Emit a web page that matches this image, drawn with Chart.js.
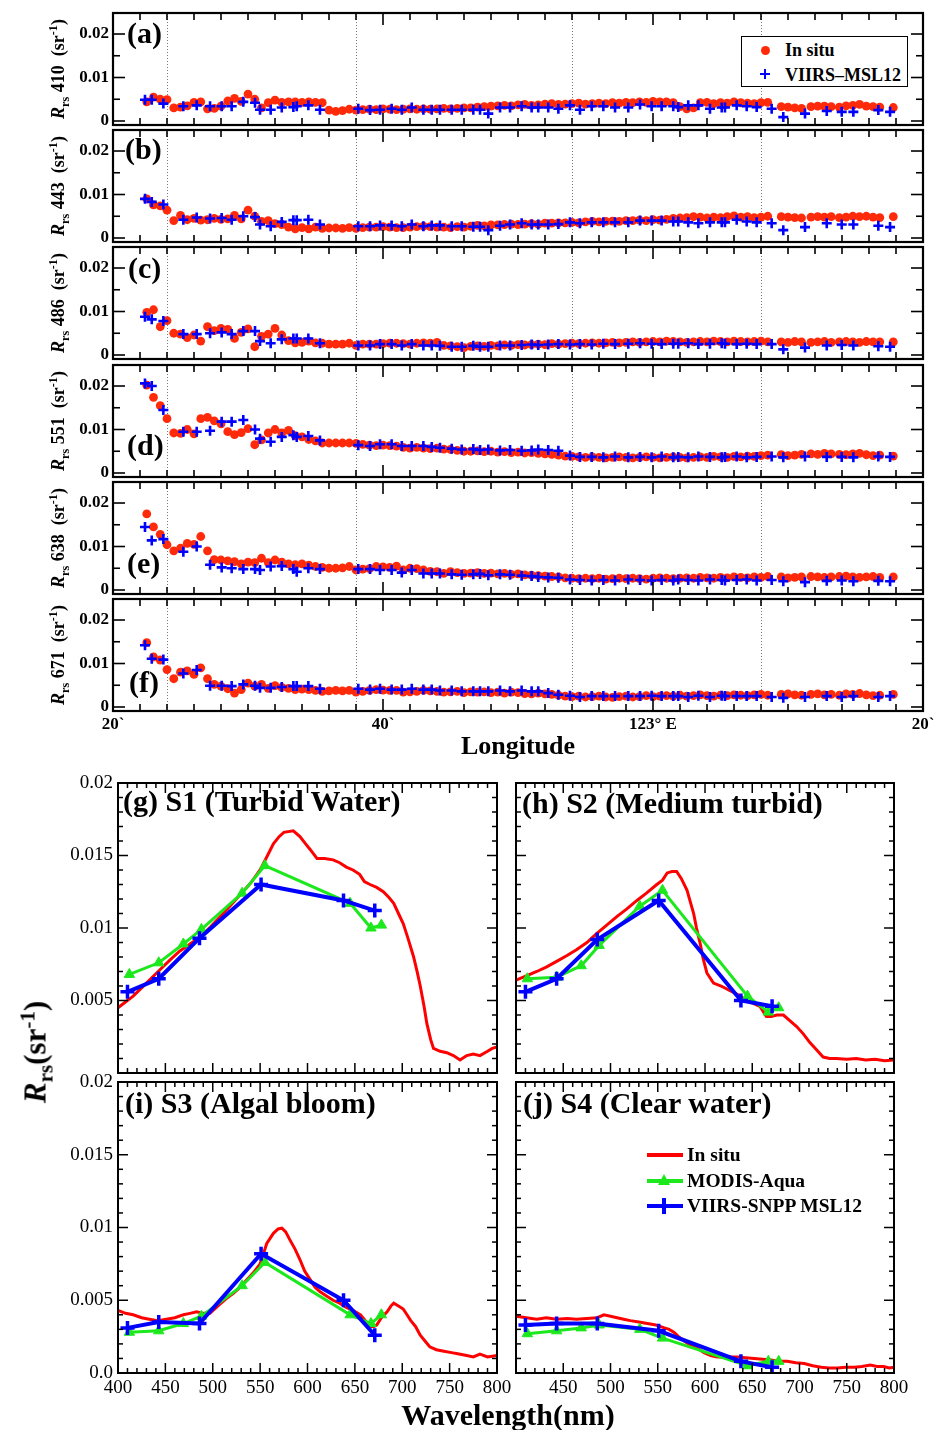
<!DOCTYPE html>
<html>
<head>
<meta charset="utf-8">
<script src="https://cdn.jsdelivr.net/npm/chart.js@4.4.1/dist/chart.umd.min.js"></script>
<style>
html,body{margin:0;padding:0;background:#fff;}
#stage{position:relative;width:935px;height:1430px;overflow:hidden;font-family:"Liberation Serif","Times New Roman",serif;color:#000;}
canvas{position:absolute;z-index:1;}
.t{position:absolute;white-space:nowrap;font-weight:bold;line-height:1;z-index:3;}
.rot{transform:translate(-50%,-50%) rotate(-90deg);}
.ctr{transform:translate(-50%,0);}
.t sub,.t sup{font-size:0.68em;line-height:0;}
.it{font-style:italic;}
.pl{font-size:30px;}
.yt{font-size:18px;}
.st{font-size:30px;}
#legA{position:absolute;left:741px;top:36px;width:167px;height:51px;box-sizing:border-box;border:1.5px solid #000;background:#fff;z-index:2;}
.mk{position:absolute;z-index:3;}
</style>
</head>
<body>
<div id="stage">
  <!-- top panel y titles -->
  <div class="t yt rot" style="left:58px;top:69px"><span class="it">R</span><sub>rs</sub> 410&nbsp; (sr<sup>-1</sup>)</div>
  <div class="t yt rot" style="left:58px;top:186px"><span class="it">R</span><sub>rs</sub> 443&nbsp; (sr<sup>-1</sup>)</div>
  <div class="t yt rot" style="left:58px;top:303px"><span class="it">R</span><sub>rs</sub> 486&nbsp; (sr<sup>-1</sup>)</div>
  <div class="t yt rot" style="left:58px;top:421px"><span class="it">R</span><sub>rs</sub> 551&nbsp; (sr<sup>-1</sup>)</div>
  <div class="t yt rot" style="left:58px;top:538px"><span class="it">R</span><sub>rs</sub> 638&nbsp; (sr<sup>-1</sup>)</div>
  <div class="t yt rot" style="left:58px;top:655px"><span class="it">R</span><sub>rs</sub> 671&nbsp; (sr<sup>-1</sup>)</div>
  <!-- panel letters -->
  <div class="t pl" style="left:127px;top:18px">(a)</div>
  <div class="t pl" style="left:125px;top:134px">(b)</div>
  <div class="t pl" style="left:128px;top:253px">(c)</div>
  <div class="t pl" style="left:127px;top:430px">(d)</div>
  <div class="t pl" style="left:127px;top:548px">(e)</div>
  <div class="t pl" style="left:129px;top:667px">(f)</div>
  <!-- legend (a) -->
  <div id="legA"></div>
  <div class="mk" style="left:760.5px;top:45.5px;width:9px;height:9px;border-radius:50%;background:#ff2a0a"></div>
  <div class="mk" style="left:760px;top:73px;width:10px;height:2.4px;background:#0000ff"></div>
  <div class="mk" style="left:763.8px;top:69px;width:2.4px;height:10px;background:#0000ff"></div>
  <div class="t" style="left:785px;top:41px;font-size:18px">In situ</div>
  <div class="t" style="left:785px;top:66px;font-size:18px">VIIRS–MSL12</div>
  <div class="t ctr" style="left:518px;top:733px;font-size:26px">Longitude</div>
  <!-- bottom titles -->
  <div class="t st" style="left:123px;top:785.5px">(g) S1 (Turbid Water)</div>
  <div class="t st" style="left:522px;top:787.5px">(h) S2 (Medium turbid)</div>
  <div class="t st" style="left:125px;top:1087.5px">(i) S3 (Algal bloom)</div>
  <div class="t st" style="left:523px;top:1087.5px">(j) S4 (Clear water)</div>
  <!-- legend (j) -->
  <div class="mk" style="left:647px;top:1153px;width:36px;height:4px;background:#ff0000"></div>
  <div class="mk" style="left:647px;top:1179px;width:36px;height:4px;background:#1de81d"></div>
  <div class="mk" style="left:658px;top:1174px;width:0;height:0;border-left:6.5px solid transparent;border-right:6.5px solid transparent;border-bottom:11px solid #1de81d"></div>
  <div class="mk" style="left:647px;top:1204px;width:36px;height:4px;background:#0000ff"></div>
  <div class="mk" style="left:662.2px;top:1198px;width:3.6px;height:16px;background:#0000ff"></div>
  <div class="t" style="left:687px;top:1145px;font-size:19.5px">In situ</div>
  <div class="t" style="left:687px;top:1171px;font-size:19.5px">MODIS-Aqua</div>
  <div class="t" style="left:687px;top:1196px;font-size:19.5px">VIIRS-SNPP MSL12</div>
  <div class="t rot" style="left:35px;top:1052px;font-size:31px"><span class="it">R</span><sub>rs</sub>(sr<sup>-1</sup>)</div>
  <div class="t ctr" style="left:508px;top:1400px;font-size:30px">Wavelength(nm)</div>
</div>
<script>
// ---------------- DATA ----------------
// Longitude axis: arc-minutes past 122°E (20` ... 123°E ... 20`)
const lonTickValues = [20, 40, 60, 80];
const lonTickLabels = ['20`', '40`', '123° E', '20`'];
const sectionLines = [24, 38, 54, 68];
const rrsTopTickValues = [0, 0.01, 0.02];
const rrsTopTickLabels = ['0', '0.01', '0.02'];

// In situ station longitudes (arc-min)
const insituLon = [22.5,23,23.5,24,24.5,25,25.5,26,26.5,27,27.5,28,28.5,29,29.5,30,30.5,31,31.5,32,32.5,33,33.5,34,34.5,35,35.5,36,36.5,37,37.5,38,38.5,39,39.5,40,40.5,41,41.5,42,42.5,43,43.5,44,44.5,45,45.5,46,
 46.5,47,47.5,48,48.5,49,49.5,50,50.5,51,51.5,52,52.5,53,53.5,54,54.5,55,55.5,56,56.5,57,57.5,58,58.5,59,59.5,60,60.5,61,61.5,62,62.5,63,63.5,64,64.5,65,65.5,66,66.5,67,67.5,68,68.5,
 69.5,70,70.5,71,71.7,72.2,72.7,73.2,73.8,74.3,74.8,75.3,75.8,76.3,76.8,77.8];
// VIIRS matchup longitudes (arc-min)
const viirsLon = [22.37,22.87,23.73,25.21,26.2,27.19,28.05,28.79,29.65,30.52,30.89,31.68,32.5,33.36,33.61,34.47,35.33,38.17,39.04,39.78,40.64,41.39,42.13,42.99,43.61,44.22,45.09,45.83,
 46.69,47.19,47.8,48.67,49.41,50.27,51.01,51.5,52.24,52.99,53.85,54.59,55.46,56.32,57.19,58.17,59.04,59.9,60.64,61.5,61.87,62.61,63.36,64.22,65.09,65.33,66.2,66.94,67.68,68.79,69.65,71.26,72.87,73.98,74.84,76.69,77.56];

// Rrs values in units of 1e-3 sr^-1
const insitu410 = [4.4,5.5,5.0,4.9,3.0,3.2,3.5,4.3,4.4,2.8,2.9,3.4,4.6,5.2,4.5,6.2,5.0,3.0,4.2,4.8,4.3,4.4,4.4,4.3,4.4,4.3,4.2,2.5,2.2,2.4,2.7,2.5,2.6,2.7,2.6,2.8,2.7,2.6,2.7,2.8,2.7,2.8,2.7,2.8,2.9,2.8,2.9,3.0,
 3.0,3.2,3.3,3.4,3.5,3.6,3.5,3.7,3.8,3.6,3.7,3.9,4.0,3.8,3.9,4.0,4.1,3.9,4.0,4.1,4.0,4.2,4.1,4.3,4.2,4.4,4.3,4.5,4.4,4.4,4.2,3.3,2.8,3.0,4.2,4.3,4.0,4.2,4.1,4.4,4.2,4.1,4.0,4.2,4.3,
 3.3,3.2,3.0,2.9,3.3,3.4,3.4,3.3,3.2,3.5,3.6,3.8,3.4,3.3,3.2,3.1];
const insitu443 = [9.0,7.6,7.4,6.4,4.0,5.2,4.2,4.5,4.1,4.2,4.5,4.3,4.4,5.2,4.4,6.4,5.0,3.8,4.0,3.3,3.1,2.5,2.1,2.4,2.1,2.5,2.2,2.3,2.3,2.2,2.4,2.2,2.4,2.5,2.5,2.6,2.5,2.4,2.4,2.5,2.6,2.7,2.6,2.5,2.5,2.4,2.6,2.5,
 2.7,2.9,2.8,3.0,3.0,3.1,3.2,3.1,3.2,3.3,3.2,3.4,3.4,3.5,3.5,3.6,3.5,3.7,3.8,3.7,3.8,3.9,3.8,4.0,4.0,4.1,4.0,4.2,4.1,4.3,4.5,4.6,4.7,4.9,4.8,4.6,4.8,4.7,4.9,5.1,4.8,4.9,4.7,4.8,5.0,
 4.9,4.8,4.7,4.6,4.8,4.9,4.8,4.9,4.7,4.8,5.0,4.9,5.0,4.8,4.7,4.9];
const insitu486 = [9.8,10.4,6.5,7.9,5.0,4.8,4.0,4.6,3.2,6.5,5.6,6.1,5.9,3.8,5.2,6.0,1.9,4.3,4.8,6.1,4.6,3.3,2.8,2.9,3.2,2.8,2.7,2.5,2.5,2.5,2.7,2.2,2.5,2.5,2.5,2.6,2.7,2.7,2.6,2.5,2.7,2.8,2.7,2.9,2.2,2.1,1.9,1.7,
 2.0,2.1,2.0,2.2,2.1,2.3,2.2,2.4,2.3,2.4,2.5,2.4,2.6,2.5,2.6,2.7,2.6,2.7,2.8,2.7,2.8,2.9,2.8,2.9,3.0,2.9,3.0,3.1,3.0,3.2,3.1,3.0,2.9,3.0,3.1,3.0,3.2,3.1,3.0,3.2,3.1,3.0,3.1,3.2,3.0,
 3.0,2.9,3.1,3.0,2.9,3.0,3.1,2.9,3.0,3.1,3.0,2.9,3.1,3.0,3.0,3.0];
const insitu551 = [20.2,17.4,15.5,12.5,9.2,9.1,10.0,9.0,12.5,12.8,12.0,11.3,9.5,8.8,9.3,10.2,6.5,7.6,9.2,10.0,9.2,9.8,8.6,8.3,7.7,7.4,6.9,6.9,6.9,6.9,6.9,6.8,6.6,6.4,6.3,6.4,6.3,6.2,5.9,5.7,5.9,5.7,5.6,5.7,5.5,5.4,5.2,5.0,
 5.0,5.1,4.9,5.0,4.8,4.9,4.7,4.8,4.6,4.7,4.5,4.4,4.3,4.1,3.9,3.8,3.7,3.6,3.7,3.6,3.5,3.6,3.7,3.6,3.5,3.6,3.7,3.6,3.5,3.6,3.7,3.6,3.5,3.6,3.7,3.6,3.8,3.7,3.6,3.8,3.7,3.9,3.8,4.0,4.1,
 4.2,4.0,4.1,4.3,4.4,4.3,4.5,4.4,4.3,4.2,4.4,4.5,4.2,4.0,4.1,3.9];
const insitu638 = [17.5,14.5,12.8,10.4,9.0,9.6,10.7,10.5,12.3,9.0,7.0,6.9,6.7,6.5,6.0,6.4,6.3,7.3,6.3,6.9,6.4,6.0,5.8,6.0,5.7,5.4,5.2,5.0,5.0,5.1,5.4,4.6,4.8,4.9,5.4,5.3,5.2,5.5,4.6,5.0,4.9,4.6,4.3,4.2,3.8,4.2,4.0,3.8,
 3.9,4.0,3.8,3.9,3.7,3.8,3.6,3.7,3.5,3.4,3.3,3.2,3.1,3.0,2.8,2.7,2.6,2.7,2.6,2.7,2.5,2.6,2.7,2.6,2.7,2.6,2.5,2.7,2.8,2.7,2.6,2.7,2.8,2.7,2.9,2.8,2.7,2.9,2.8,3.0,2.9,2.8,3.0,2.9,3.1,
 3.0,2.8,2.9,3.0,3.1,3.0,2.9,3.0,3.1,3.2,3.0,2.9,3.0,3.1,2.9,3.0];
const insitu671 = [14.8,11.5,10.8,8.6,6.5,8.0,8.3,7.5,9.0,6.5,5.2,4.8,4.2,3.2,4.0,5.5,4.8,5.2,4.3,4.9,4.5,4.3,4.0,4.1,4.0,3.8,3.6,3.7,3.8,3.7,3.8,3.4,3.6,3.8,4.0,3.9,3.8,3.8,3.4,3.5,3.6,3.8,3.7,3.6,3.4,3.5,3.6,3.3,
 3.5,3.4,3.5,3.3,3.4,3.2,3.4,3.3,3.1,3.0,3.2,3.0,2.9,2.7,2.5,2.4,2.5,2.3,2.4,2.5,2.3,2.2,2.4,2.5,2.3,2.4,2.6,2.4,2.5,2.6,2.5,2.7,2.5,2.6,2.8,2.6,2.5,2.7,2.6,2.8,2.7,2.6,2.8,2.9,2.7,
 2.9,3.0,2.8,2.7,2.9,3.0,2.8,2.9,2.7,3.0,2.9,3.1,2.8,2.6,2.7,2.9];

const viirs410 = [4.9,4.9,4.0,3.4,3.6,3.4,3.4,3.4,4.4,4.2,2.6,2.6,3.1,3.2,3.4,3.6,2.6,2.8,2.5,2.6,2.8,2.6,3.1,2.6,2.6,2.6,2.6,2.6,
 2.6,2.6,1.7,3.1,3.1,3.4,3.1,3.1,3.1,2.8,3.6,2.6,3.4,3.4,3.1,3.1,3.8,3.4,3.4,3.4,3.2,3.6,3.6,2.8,3.1,3.1,3.6,3.4,3.2,2.8,0.9,1.7,2.3,2.1,2.1,2.5,2.1];
const viirs443 = [9.0,8.3,7.7,4.2,4.7,4.5,4.6,4.2,5.0,4.8,3.1,2.7,3.7,4.1,4.1,4.2,3.1,2.7,2.7,2.9,2.9,2.7,3.1,2.7,2.9,2.9,2.7,2.7,
 2.6,2.6,1.8,2.8,3.1,3.4,3.1,3.1,3.1,3.2,3.6,3.4,3.6,3.6,3.6,3.6,4.0,4.0,4.0,3.8,3.8,3.6,3.4,3.6,3.6,3.6,4.2,3.8,3.6,3.4,1.8,2.5,3.4,3.1,3.1,2.8,2.5];
const viirs486 = [8.8,8.2,7.8,4.8,4.8,5.0,5.2,4.8,5.5,5.5,3.2,2.7,3.6,3.8,3.8,3.8,2.7,2.2,2.2,2.5,2.5,2.2,2.5,2.2,2.2,2.1,1.9,1.9,
 2.1,1.9,1.9,2.2,2.2,2.3,2.4,2.3,2.4,2.5,2.4,2.5,2.4,2.6,2.5,2.6,2.7,2.6,2.5,2.6,2.6,2.7,2.5,2.6,2.7,2.6,2.5,2.6,2.5,2.5,1.3,1.7,2.2,2.3,2.2,2.0,1.9];
const viirs551 = [20.6,20.0,14.5,9.5,9.5,9.7,11.8,11.8,12.2,10.0,7.9,7.2,8.3,8.7,8.3,8.5,7.5,6.4,6.2,6.6,6.6,6.2,6.2,6.2,6.0,5.8,5.6,5.4,
 5.5,5.3,5.4,5.2,5.3,5.1,5.2,5.4,5.3,5.1,4.0,3.7,3.7,3.6,3.8,3.6,3.7,3.6,3.8,3.6,3.7,3.6,3.8,3.7,3.6,3.7,3.8,3.6,3.7,3.8,3.6,3.8,3.7,3.7,3.6,3.8,3.7];
const viirs638 = [14.5,11.4,11.7,8.8,10.0,5.8,5.2,5.0,4.8,4.8,4.6,5.4,5.5,4.8,4.2,5.0,4.8,4.8,4.8,4.6,4.6,4.0,4.6,3.8,3.8,3.8,3.6,3.5,
 3.6,3.7,3.4,3.6,3.5,3.3,3.2,3.0,2.9,2.8,2.4,2.3,2.2,2.3,2.2,2.4,2.3,2.2,2.3,2.2,2.4,2.3,2.2,2.4,2.3,2.2,2.3,2.4,2.2,2.3,2.0,1.8,2.1,2.2,2.0,2.1,2.0];
const viirs671 = [14.2,11.1,10.9,7.7,8.5,4.9,4.9,4.8,5.2,4.9,4.4,4.4,4.6,4.8,4.8,4.8,4.2,4.2,4.0,4.2,4.0,4.0,4.2,4.0,4.0,3.8,3.8,3.6,
 3.6,3.6,3.6,3.8,3.6,3.8,3.6,3.6,3.2,2.8,2.6,2.3,2.5,2.5,2.5,2.5,2.5,2.6,2.5,2.5,2.5,2.3,2.6,2.3,2.6,2.5,2.5,2.5,2.5,2.3,2.1,2.3,2.5,2.3,2.5,2.3,2.5];

// Spectra panels (g)-(j)
const wlTickValues = [400,450,500,550,600,650,700,750,800];
const rrsTickValues = [0,0.005,0.01,0.015,0.02];
const rrsTickLabels = ['0.0','0.005','0.01','0.015','0.02'];
const modisBands = [412,443,469,488,531,555,645,667,678];
const viirsBands = [410,443,486,551,638,671];

const s1Wl = [400,416,430,444,455,465,476,487,498,508,518,529,540,550,557,564,570,575,585,592,598,603,610,618,627,634,641,648,655,660,666,673,680,686,691,696,701,706,712,716,719,723,726,730,733,740,747,754,761,768,775,782,790,795,800];
const s1Insitu = [4.5,5.3,6.2,7.1,7.8,8.4,8.9,9.4,10.1,10.8,11.5,12.3,13.1,14.0,14.9,15.8,16.3,16.6,16.7,16.3,15.8,15.4,14.8,14.8,14.7,14.5,14.2,14.0,13.7,13.2,13.0,12.8,12.5,12.1,11.7,11.0,10.3,9.3,8.0,6.9,6.0,4.6,3.4,2.3,1.7,1.5,1.4,1.2,0.9,1.2,1.3,1.2,1.5,1.7,1.8];
const s1Modis = [6.8,7.6,8.9,9.9,12.4,14.3,11.7,10.0,10.2];
const s1Viirs = [5.6,6.5,9.3,13.0,11.9,11.2];

const s2Wl = [400,411,422,432,443,454,464,475,485,496,507,517,528,538,549,555,560,565,570,575,581,584,588,591,595,598,602,609,617,626,635,644,651,658,662,665,670,676,683,690,697,704,711,718,725,732,739,750,760,770,780,790,800];
const s2Insitu = [6.4,6.7,7.0,7.3,7.7,8.1,8.5,9.0,9.6,10.2,10.8,11.3,11.9,12.4,13.0,13.3,13.8,13.9,13.9,13.4,12.6,11.9,11.0,10.0,8.9,7.9,6.9,6.2,6.0,5.7,5.4,5.0,4.8,4.6,4.2,3.9,3.9,4.0,4.0,3.6,3.2,2.7,2.1,1.6,1.1,1.0,1.0,0.95,1.0,0.9,0.95,0.85,0.9];
const s2Modis = [6.5,6.6,7.4,8.8,11.5,12.6,5.3,4.2,4.5];
const s2Viirs = [5.6,6.5,9.2,11.9,5.0,4.6];

const s3Wl = [400,408,416,425,433,442,451,460,469,476,483,490,497,507,514,522,529,536,543,550,557,564,569,573,577,581,587,592,597,603,608,613,620,627,634,641,648,656,661,666,670,673,678,684,688,691,696,701,705,709,714,719,724,729,736,744,752,760,768,775,782,790,800];
const s3Insitu = [4.3,4.1,4.0,3.8,3.7,3.6,3.7,3.8,4.0,4.1,4.2,4.1,4.1,4.7,5.1,5.5,5.9,6.4,6.9,7.5,8.9,9.6,9.9,9.95,9.7,9.2,8.5,7.8,7.0,6.4,5.9,5.6,5.3,5.0,4.8,4.5,4.3,4.0,3.6,3.2,3.2,3.3,3.8,4.2,4.6,4.8,4.6,4.4,4.0,3.6,3.2,2.6,2.2,1.8,1.6,1.5,1.4,1.3,1.2,1.1,1.3,1.1,1.2];
const s3Modis = [2.8,2.9,3.4,3.9,6.0,7.6,4.0,3.4,4.0];
const s3Viirs = [3.1,3.5,3.4,8.2,5.0,2.6];

const s4Wl = [400,411,422,432,443,454,464,475,486,493,500,507,514,521,530,539,548,557,562,567,572,578,585,592,599,606,613,620,627,634,643,652,661,670,678,687,696,705,714,723,731,740,749,758,766,775,782,789,795,800];
const s4Insitu = [3.9,3.8,3.7,3.8,3.7,3.75,3.7,3.75,3.8,4.0,3.9,3.8,3.7,3.6,3.5,3.4,3.3,3.1,3.0,2.8,2.5,2.2,1.9,1.7,1.4,1.2,1.1,1.1,1.1,1.1,1.05,1.0,0.95,0.9,0.8,0.8,0.7,0.65,0.5,0.4,0.35,0.35,0.4,0.4,0.45,0.55,0.45,0.45,0.35,0.4];
const s4Modis = [2.7,2.9,3.1,3.3,3.0,2.4,0.5,0.8,0.8];
const s4Viirs = [3.3,3.4,3.4,2.9,0.8,0.4];

// ---------------- RENDERING ----------------
const FONT = '"Liberation Serif", "Times New Roman", serif';
const RED_DOT = '#ff2a0a', BLUE = '#0000ff', GREEN = '#1de81d', RED = '#ff0000';
const toXY = (xs, vs) => xs.map((x, i) => ({x: x, y: vs[i] / 1000}));

const frameTicks = {
  id: 'frameTicks',
  beforeDatasetsDraw(chart, args, o) {
    if (!o.vlines) return;
    const {ctx, chartArea: a} = chart, x = chart.scales.x;
    ctx.save();
    ctx.strokeStyle = '#777'; ctx.lineWidth = 1; ctx.setLineDash([1, 2]);
    o.vlines.forEach(v => {
      const px = Math.round(x.getPixelForValue(v)) + 0.5;
      ctx.beginPath(); ctx.moveTo(px, a.top); ctx.lineTo(px, a.bottom); ctx.stroke();
    });
    ctx.restore();
  },
  afterDraw(chart, args, o) {
    const {ctx, chartArea: a} = chart, x = chart.scales.x, y = chart.scales.y;
    ctx.save();
    ctx.strokeStyle = '#000'; ctx.lineWidth = o.tickWidth;
    const seg = (x1, y1, x2, y2) => { ctx.beginPath(); ctx.moveTo(x1, y1); ctx.lineTo(x2, y2); ctx.stroke(); };
    const nx = Math.round((o.x[1] - o.x[0]) / o.x[2]);
    for (let i = 0; i <= nx; i++) {
      const v = o.x[0] + i * o.x[2];
      const major = Math.abs(v / o.x[3] - Math.round(v / o.x[3])) < 1e-6;
      const L = major ? o.majorLen : o.minorLen;
      const px = x.getPixelForValue(v);
      seg(px, a.bottom, px, a.bottom - L);
      seg(px, a.top, px, a.top + L);
    }
    const ny = Math.round((o.y[1] - o.y[0]) / o.y[2]);
    for (let i = 0; i <= ny; i++) {
      const v = o.y[0] + i * o.y[2];
      const major = Math.abs(v / o.y[3] - Math.round(v / o.y[3])) < 1e-6;
      const L = major ? o.majorLen : o.minorLen;
      const py = y.getPixelForValue(v);
      seg(a.left, py, a.left + L, py);
      seg(a.right, py, a.right - L, py);
    }
    ctx.lineWidth = o.frameWidth;
    ctx.strokeRect(a.left, a.top, a.right - a.left, a.bottom - a.top);
    ctx.restore();
  }
};
Chart.register(frameTicks);

function makeCanvas(box, pads) {
  const c = document.createElement('canvas');
  const w = box.w + pads.l + pads.r, h = box.h + pads.t + pads.b;
  c.width = w; c.height = h;
  c.style.left = (box.x - pads.l) + 'px';
  c.style.top = (box.y - pads.t) + 'px';
  c.style.width = w + 'px'; c.style.height = h + 'px';
  document.getElementById('stage').appendChild(c);
  return c;
}

// Top panels (a)-(f)
const topPanels = [
  {insitu: insitu410, viirs: viirs410},
  {insitu: insitu443, viirs: viirs443},
  {insitu: insitu486, viirs: viirs486},
  {insitu: insitu551, viirs: viirs551},
  {insitu: insitu638, viirs: viirs638},
  {insitu: insitu671, viirs: viirs671}
];
const topTops = [13, 130, 247, 365, 482, 599];
topPanels.forEach((p, k) => {
  const last = k === topPanels.length - 1;
  const box = {x: 113, y: topTops[k], w: 810, h: 112};
  const pads = {l: 62, r: 16, t: 3, b: last ? 30 : 3};
  new Chart(makeCanvas(box, pads), {
    type: 'scatter',
    data: {datasets: [
      {label: 'VIIRS–MSL12', data: toXY(viirsLon, p.viirs), pointStyle: 'cross', pointRadius: 5,
       pointBorderColor: BLUE, pointBackgroundColor: BLUE, pointBorderWidth: 2.6, order: 0},
      {label: 'In situ', data: toXY(insituLon, p.insitu), pointStyle: 'circle', pointRadius: 4.4,
       pointBackgroundColor: RED_DOT, pointBorderColor: RED_DOT, pointBorderWidth: 0, order: 1}
    ]},
    options: {
      responsive: false, animation: false, events: [],
      layout: {autoPadding: false, padding: {top: pads.t, right: pads.r, left: 0, bottom: 0}},
      plugins: {
        legend: {display: false}, tooltip: {enabled: false},
        frameTicks: {vlines: sectionLines, x: [20, 80, 2, 20], y: [0, 0.02, 0.005, 0.01],
                     majorLen: 12, minorLen: 7, tickWidth: 1.6, frameWidth: 2.2}
      },
      scales: {
        x: {type: 'linear', min: 20, max: 80,
            grid: {display: false, drawTicks: false}, border: {display: false},
            ticks: {display: last, autoSkip: false, maxRotation: 0, padding: 3, color: '#000',
                    font: {family: FONT, size: 17, weight: 'bold'},
                    callback: v => lonTickLabels[lonTickValues.indexOf(v)]},
            afterBuildTicks: s => { s.ticks = lonTickValues.map(v => ({value: v})); },
            afterFit: s => { s.height = pads.b; s.paddingLeft = 0; s.paddingRight = 0; }},
        y: {type: 'linear', min: -0.00092, max: 0.02483,
            grid: {display: false, drawTicks: false}, border: {display: false},
            ticks: {padding: 4, color: '#000', font: {family: FONT, size: 17, weight: 'bold'},
                    callback: v => rrsTopTickLabels[rrsTopTickValues.indexOf(v)]},
            afterBuildTicks: s => { s.ticks = rrsTopTickValues.map(v => ({value: v})); },
            afterFit: s => { s.width = pads.l; s.paddingTop = 0; s.paddingBottom = 0; }}
      }
    }
  });
});

// Spectra panels (g)-(j)
const specPanels = [
  {wl: s1Wl, insitu: s1Insitu, modis: s1Modis, viirs: s1Viirs, box: {x: 118, y: 783, w: 379, h: 290},
   pads: {l: 62, r: 6, t: 12, b: 4}, yLab: true, xLab: false, zeroLab: false, firstX: true},
  {wl: s2Wl, insitu: s2Insitu, modis: s2Modis, viirs: s2Viirs, box: {x: 516, y: 783, w: 378, h: 290},
   pads: {l: 4, r: 6, t: 12, b: 4}, yLab: false, xLab: false, zeroLab: false, firstX: true},
  {wl: s3Wl, insitu: s3Insitu, modis: s3Modis, viirs: s3Viirs, box: {x: 118, y: 1082, w: 379, h: 291},
   pads: {l: 62, r: 22, t: 12, b: 32}, yLab: true, xLab: true, zeroLab: true, firstX: true},
  {wl: s4Wl, insitu: s4Insitu, modis: s4Modis, viirs: s4Viirs, box: {x: 516, y: 1082, w: 378, h: 291},
   pads: {l: 4, r: 22, t: 4, b: 32}, yLab: false, xLab: true, zeroLab: false, firstX: false}
];
specPanels.forEach(p => {
  const pads = p.pads;
  new Chart(makeCanvas(p.box, pads), {
    type: 'scatter',
    data: {datasets: [
      {label: 'VIIRS-SNPP MSL12', data: toXY(viirsBands, p.viirs), showLine: true, borderColor: BLUE, borderWidth: 4,
       pointStyle: 'cross', pointRadius: 7, pointBorderColor: BLUE, pointBackgroundColor: BLUE, pointBorderWidth: 3.5, order: 0},
      {label: 'MODIS-Aqua', data: toXY(modisBands, p.modis), showLine: true, borderColor: GREEN, borderWidth: 3,
       pointStyle: 'triangle', pointRadius: 6, pointBorderColor: GREEN, pointBackgroundColor: GREEN, pointBorderWidth: 1, order: 1},
      {label: 'In situ', data: toXY(p.wl, p.insitu), showLine: true, borderColor: RED, borderWidth: 3,
       pointRadius: 0, order: 2}
    ]},
    options: {
      responsive: false, animation: false, events: [],
      layout: {autoPadding: false, padding: {top: pads.t, right: pads.r, left: 0, bottom: 0}},
      plugins: {
        legend: {display: false}, tooltip: {enabled: false},
        frameTicks: {x: [400, 800, 10, 50], y: [0, 0.02, 0.001, 0.005],
                     majorLen: 10, minorLen: 5, tickWidth: 1.5, frameWidth: 2}
      },
      scales: {
        x: {type: 'linear', min: 400, max: 800,
            grid: {display: false, drawTicks: false}, border: {display: false},
            ticks: {display: p.xLab, autoSkip: false, maxRotation: 0, padding: 4, color: '#000',
                    font: {family: FONT, size: 19},
                    callback: v => (v === 400 && !p.firstX) ? '' : String(v)},
            afterBuildTicks: s => { s.ticks = wlTickValues.map(v => ({value: v})); },
            afterFit: s => { s.height = pads.b; s.paddingLeft = 0; s.paddingRight = 0; }},
        y: {type: 'linear', min: 0, max: 0.02,
            grid: {display: false, drawTicks: false}, border: {display: false},
            ticks: {display: p.yLab, padding: 5, color: '#000', font: {family: FONT, size: 19},
                    callback: v => (v === 0 && !p.zeroLab) ? '' : rrsTickLabels[rrsTickValues.indexOf(v)]},
            afterBuildTicks: s => { s.ticks = rrsTickValues.map(v => ({value: v})); },
            afterFit: s => { s.width = pads.l; s.paddingTop = 0; s.paddingBottom = 0; }}
      }
    }
  });
});
</script>
</body>
</html>
